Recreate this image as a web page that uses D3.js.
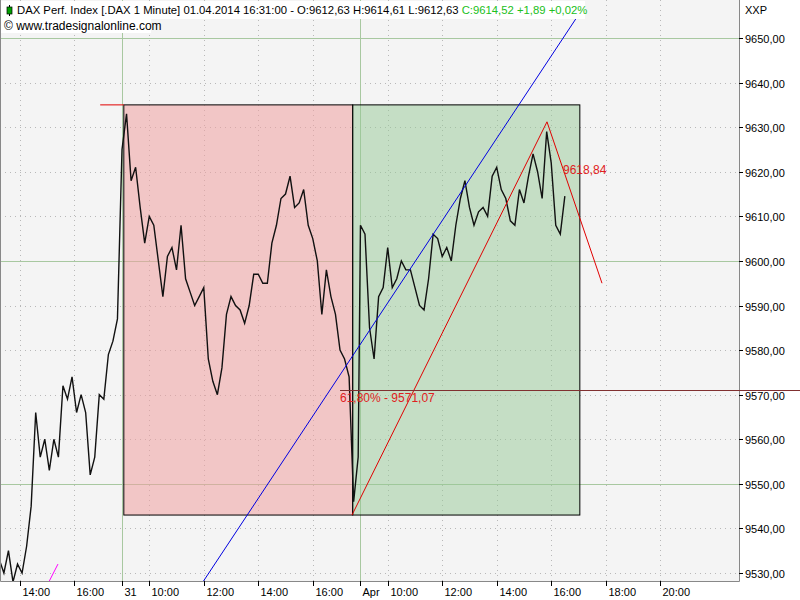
<!DOCTYPE html>
<html><head><meta charset="utf-8">
<script src="https://cdn.jsdelivr.net/npm/d3@7"></script>
<style>body{margin:0;background:#fff}svg text{font-family:"Liberation Sans",Arial,sans-serif}</style>
</head><body><svg id="c" width="800" height="600"></svg>
<script>
// trading minutes from 31.03 09:00 (sessions 09:00-17:45 joined)
const fridayPrices=[9533,9530,9535,9528,9532,9530,9536,9545,9566,9556,9560,9553,9560,9556,9572,9569,9574,9566,9570,9566,9552,9556,9570,9569,9579,9582,9587];
const day31Prices=[9625,9633,9618,9621,9612,9604,9610,9608,9600,9592,9601,9603,9598,9608,9596,9593,9590,9592,9594,9578,9573,9570,9576,9588,9592,9590,9589,9586,9590,9597,9597,9595,9595,9604,9608,9614,9615,9619,9612,9613,9616,9608,9605,9600,9588,9598,9592,9588,9580,9578,9574,9546,9556];
const apr1Prices=[9608,9606,9585,9578,9592,9594,9603,9594,9596,9600,9598,9598,9594,9590,9589,9596,9606,9605,9601,9603,9600,9608,9614,9618,9612,9608,9611,9612,9610,9619,9621,9616,9614,9609,9608,9616,9613,9619,9624,9620,9614,9629,9622,9608,9606,9614.52];
const tickMinutes=[-225,-105,0,60,180,300,420,525,585,705,825,945,1065,1185];
const tickLabels=["14:00","16:00","31","10:00","12:00","14:00","16:00","Apr","10:00","12:00","14:00","16:00","18:00","20:00"];
const priceTicks=[9530,9540,9550,9560,9570,9580,9590,9600,9610,9620,9630,9640,9650];
const blueLine=[[171.7,9527],[1001.8,9654.7]];
const redLine=[[506.4,9543],[935.7,9631.2],[1056.8,9595]];
const magentaLine=[[-161,9528],[-141,9532]];
const boxRed={m0:4,m1:508,top:9635,bottom:9543};
const boxGreen={m0:508,m1:1008,top:9635,bottom:9543};
const fibLevel=9571.07;

const series=[];
fridayPrices.forEach((p,i)=>series.push([-270+i*10,p]));
day31Prices.forEach((p,i)=>series.push([i*10,p]));
apr1Prices.forEach((p,i)=>series.push([525+i*10,p]));

const W=739,H=581;
const svg=d3.select("#c");
const x=d3.scaleLinear().domain([0,525]).range([122,122+0.4542*525]);
const y=d3.scaleLinear().domain([9650,9530]).range([38,573]);
svg.append("rect").attr("x",0).attr("y",0).attr("width",W).attr("height",H).attr("fill","#f4f4f4");
svg.append("clipPath").attr("id","cp").append("rect").attr("width",W).attr("height",H);
const g=svg.append("g").attr("clip-path","url(#cp)");
// grid
priceTicks.forEach(p=>{const solid=p%50===0;
 g.append("line").attr("x1",0).attr("x2",W).attr("y1",Math.round(y(p))+.5).attr("y2",Math.round(y(p))+.5)
  .attr("stroke",solid?"#a8c8a0":"#b8b8b8").attr("stroke-dasharray",solid?null:"1,4");});
tickMinutes.forEach((m,i)=>{const solid=tickLabels[i]==="31"||tickLabels[i]==="Apr";
 g.append("line").attr("y1",0).attr("y2",H).attr("x1",Math.round(x(m))+.5).attr("x2",Math.round(x(m))+.5)
  .attr("stroke",solid?"#a8c8a0":"#b8b8b8").attr("stroke-dasharray",solid?null:"1,4");});
// boxes
[[boxRed,"rgba(240,160,160,0.55)"],[boxGreen,"rgba(150,200,150,0.5)"]].forEach(([b,c])=>{
 g.append("rect").attr("x",x(b.m0)).attr("y",y(b.top)).attr("width",x(b.m1)-x(b.m0)).attr("height",y(b.bottom)-y(b.top))
  .attr("fill",c).attr("stroke","#000").attr("stroke-width",1);});
g.append("line").attr("x1",x(-48)).attr("x2",x(4)).attr("y1",y(9635)).attr("y2",y(9635)).attr("stroke","#e00000");
const ln=d3.line().x(d=>x(d[0])).y(d=>y(d[1]));
g.append("path").attr("d",ln(series)).attr("fill","none").attr("stroke","#111").attr("stroke-width",1.4);
g.append("path").attr("d",ln(blueLine)).attr("fill","none").attr("stroke","#0000e0");
g.append("path").attr("d",ln(redLine)).attr("fill","none").attr("stroke","#e00000");
g.append("path").attr("d",ln(magentaLine)).attr("fill","none").attr("stroke","#ff00ff");
g.append("text").attr("x",340).attr("y",402).attr("fill","#e02020").attr("font-size",12).text("61,80% - 9571,07");
g.append("text").attr("x",563).attr("y",174).attr("fill","#e02020").attr("font-size",12).text("9618,84");
// border
svg.append("path").attr("d",`M0.5,0V${H+.5}H${W+.5}V0`).attr("fill","none").attr("stroke","#888");
svg.append("line").attr("x1",x(480)).attr("x2",800).attr("y1",Math.round(y(fibLevel))+.5).attr("y2",Math.round(y(fibLevel))+.5).attr("stroke","#803030");
// y axis
priceTicks.forEach(p=>{const yy=Math.round(y(p))+.5;
 svg.append("line").attr("x1",W).attr("x2",W+4).attr("y1",yy).attr("y2",yy).attr("stroke","#000");
 svg.append("text").attr("x",W+6).attr("y",yy+4).attr("font-size",11).text(d3.format(".2f")(p).replace(".",","));});
// x axis
tickMinutes.forEach((m,i)=>{const xx=Math.round(x(m))+.5;
 svg.append("line").attr("x1",xx).attr("x2",xx).attr("y1",H).attr("y2",H+5).attr("stroke","#000");
 svg.append("text").attr("x",xx+2).attr("y",596).attr("font-size",11).text(tickLabels[i]);});
// header
svg.append("rect").attr("x",1).attr("y",1).attr("width",584).attr("height",18).attr("fill","#fff");
svg.append("rect").attr("x",1).attr("y",19).attr("width",150).attr("height",14).attr("fill","#fff");
svg.append("line").attr("x1",9.5).attr("x2",9.5).attr("y1",5).attr("y2",16).attr("stroke","#000");
svg.append("rect").attr("x",7).attr("y",7).attr("width",5).attr("height",7).attr("fill","#00a000").attr("stroke","#000").attr("stroke-width",.7);
const t=svg.append("text").attr("x",17).attr("y",14).attr("font-size",11.3);
t.append("tspan").text("DAX Perf. Index [.DAX  1 Minute] 01.04.2014 16:31:00 - O:9612,63 H:9614,61 L:9612,63 ");
t.append("tspan").attr("fill","#20c020").text("C:9614,52 +1,89 +0,02%");
svg.append("text").attr("x",4).attr("y",30).attr("font-size",12).text("© www.tradesignalonline.com");
svg.append("text").attr("x",745).attr("y",14).attr("font-size",11).text("XXP");
</script></body></html>
